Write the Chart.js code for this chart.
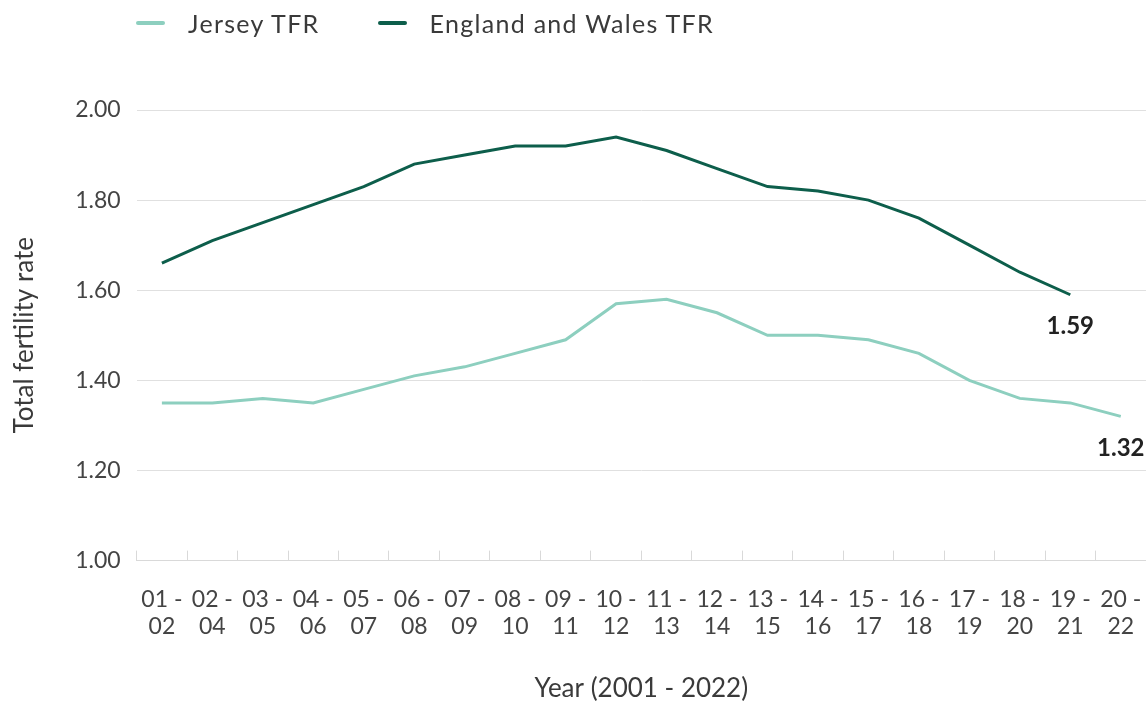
<!DOCTYPE html>
<html>
<head>
<meta charset="utf-8">
<script src="https://cdn.jsdelivr.net/npm/chart.js@4"></script>
<style>
  body { margin: 0; background: #fff; font-family: Lato, sans-serif; }
  #wrap { position: relative; width: 1146px; height: 704px; }
  #legend { position: absolute; top: 8px; left: 136px; display: flex; align-items: center;
            font-size: 25px; line-height: 30px; letter-spacing: 1.3px; color: #3a3a3a; }
  #legend .item { display: flex; align-items: center; margin-right: 58px; }
  #legend .swatch { width: 29px; height: 4px; margin-right: 23px; border-radius: 2px; }
</style>
</head>
<body>
<div id="wrap">
  <div id="legend"></div>
  <canvas id="myChart"></canvas>
</div>
<script>
const labels = ["01 -|02","02 -|04","03 -|05","04 -|06","05 -|07","06 -|08","07 -|09","08 -|10","09 -|11","10 -|12",
                "11 -|13","12 -|14","13 -|15","14 -|16","15 -|17","16 -|18","17 -|19","18 -|20","19 -|21","20 -|22"];
const jersey = [1.35, 1.35, 1.36, 1.35, 1.38, 1.41, 1.43, 1.46, 1.49, 1.57, 1.58, 1.55, 1.50, 1.50, 1.49, 1.46, 1.40, 1.36, 1.35, 1.32];
const englandWales = [1.66, 1.71, 1.75, 1.79, 1.83, 1.88, 1.90, 1.92, 1.92, 1.94, 1.91, 1.87, 1.83, 1.82, 1.80, 1.76, 1.70, 1.64, 1.59, null];
const seriesNames = ["Jersey TFR", "England and Wales TFR"];
const seriesColors = ["#8dcfbf", "#0d5e4b"];

// html legend
const legendEl = document.getElementById("legend");
seriesNames.forEach((name, i) => {
  const item = document.createElement("div");
  item.className = "item";
  item.innerHTML = '<span class="swatch" style="background:' + seriesColors[i] + '"></span><span>' + name + '</span>';
  legendEl.appendChild(item);
});

// bold value under the last point of each line
const endLabels = {
  id: "endLabels",
  afterDatasetsDraw(chart) {
    const ctx = chart.ctx;
    ctx.save();
    ctx.font = "bold 24px Lato";
    ctx.fillStyle = "#222";
    ctx.textAlign = "center";
    ctx.textBaseline = "middle";
    chart.data.datasets.forEach((ds, i) => {
      let last = ds.data.length - 1;
      while (last >= 0 && ds.data[last] == null) last--;
      const pt = chart.getDatasetMeta(i).data[last];
      ctx.fillText(ds.data[last].toFixed(2), pt.x, pt.y + 32);
    });
    ctx.restore();
  }
};

const data = {
  labels: labels.map(l => l.split("|")),
  datasets: [{
    label: seriesNames[0],
    data: jersey,
    borderColor: seriesColors[0],
    backgroundColor: seriesColors[0],
    borderWidth: 3,
    pointRadius: 0,
    tension: 0
  }, {
    label: seriesNames[1],
    data: englandWales,
    borderColor: seriesColors[1],
    backgroundColor: seriesColors[1],
    borderWidth: 3,
    pointRadius: 0,
    tension: 0
  }]
};

const config = {
  type: "line",
  data,
  options: {
    responsive: true,
    maintainAspectRatio: false,
    animation: false,
    layout: { padding: { top: 110, right: 0, left: 9, bottom: 0 } },
    plugins: {
      legend: { display: false },
      tooltip: { enabled: false }
    },
    scales: {
      x: {
        offset: true,
        // big tick padding would otherwise eat into the right side
        afterFit(scale) { scale.paddingRight = 0; scale.paddingLeft = 0; },
        grid: { offset: true, drawOnChartArea: false, tickLength: -10, color: "#d9d9d9" },
        border: { color: "#d9d9d9" },
        ticks: { font: { family: "Lato", size: 23 }, color: "#444", maxRotation: 0, autoSkip: false, padding: 35 },
        title: { display: true, text: "Year (2001 - 2022)", font: { family: "Lato", size: 26 }, color: "#3a3a3a",
                 padding: { top: -3, bottom: 0 } }
      },
      y: {
        min: 1, max: 2,
        ticks: { stepSize: 0.2, callback: v => v.toFixed(2), font: { family: "Lato", size: 23 }, color: "#444", padding: 16 },
        grid: { drawTicks: false, color: "#e0e0e0" },
        border: { display: false },
        title: { display: true, text: "Total fertility rate", font: { family: "Lato", size: 26 }, color: "#3a3a3a",
                 padding: { top: 0, bottom: 19 } }
      }
    }
  },
  plugins: [endLabels]
};

const myChart = new Chart(document.getElementById("myChart"), config);
</script>
</body>
</html>
